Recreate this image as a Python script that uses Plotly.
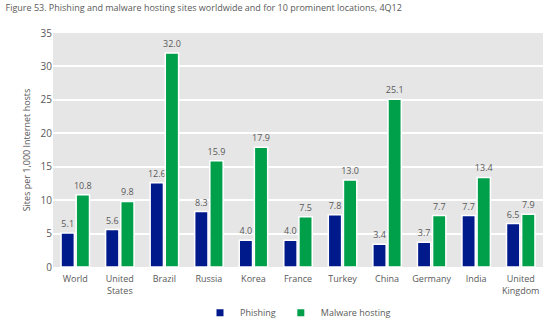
import plotly.graph_objects as go

categories = ["World", "United<br>States", "Brazil", "Russia", "Korea", "France",
              "Turkey", "China", "Germany", "India", "United<br>Kingdom"]
phishing = [5.1, 5.6, 12.6, 8.3, 4.0, 4.0, 7.8, 3.4, 3.7, 7.7, 6.5]
malware = [10.8, 9.8, 32.0, 15.9, 17.9, 7.5, 13.0, 25.1, 7.7, 13.4, 7.9]
y_ticks = [0, 5, 10, 15, 20, 25, 30, 35]

font_family = "Open Sans, Noto Sans, sans-serif"
text_col = "#595959"
c_phish = "#001a8c"
c_mal = "#00a04a"

fig = go.Figure()
fig.add_bar(x=categories, y=phishing, name="Phishing", showlegend=False,
            marker=dict(color=c_phish, line=dict(color="white", width=1.5)),
            text=[f"{v:.1f}" for v in phishing], textposition="outside",
            textfont=dict(size=9, color=text_col), cliponaxis=False)
fig.add_bar(x=categories, y=malware, name="Malware hosting", showlegend=False,
            marker=dict(color=c_mal, line=dict(color="white", width=1.5)),
            text=[f"{v:.1f}" for v in malware], textposition="outside",
            textfont=dict(size=9, color=text_col), cliponaxis=False)
# legend entries with small square markers
fig.add_scatter(x=[None], y=[None], mode="markers", name="Phishing",
                marker=dict(symbol="square", size=7, color=c_phish))
fig.add_scatter(x=[None], y=[None], mode="markers", name="Malware hosting",
                marker=dict(symbol="square", size=7, color=c_mal))

fig.update_layout(
    width=549, height=324,
    margin=dict(l=53, r=6, t=33, b=57, autoexpand=False),
    paper_bgcolor="white", plot_bgcolor="#e6e6e6",
    font=dict(family=font_family, size=9, color=text_col),
    barmode="group", bargap=0.32, bargroupgap=0.12,
    uniformtext=dict(minsize=9, mode="show"),
    title=dict(text="Figure 53. Phishing and malware hosting sites worldwide and for 10 prominent locations, 4Q12",
               x=0.01, xanchor="left", y=0.985, yanchor="top",
               font=dict(size=9, color=text_col)),
    legend=dict(orientation="h", x=0.5, xanchor="center", y=0.035, yanchor="middle",
                yref="container", font=dict(size=9, color=text_col), itemwidth=30),
    showlegend=True,
)
fig.update_yaxes(range=[0, 35], tickvals=y_ticks, showgrid=True, gridcolor="white",
                 gridwidth=1.5, zeroline=False, ticks="", ticklen=0,
                 title=dict(text="Sites per 1,000 Internet hosts", font=dict(size=9, color=text_col), standoff=8),
                 tickfont=dict(size=10, color=text_col))
fig.update_xaxes(showgrid=False, ticks="", ticklabelstandoff=5, tickfont=dict(size=9, color=text_col))
fig.update_traces(selector=dict(type="bar"), textangle=0)

fig.write_html("out.html")
